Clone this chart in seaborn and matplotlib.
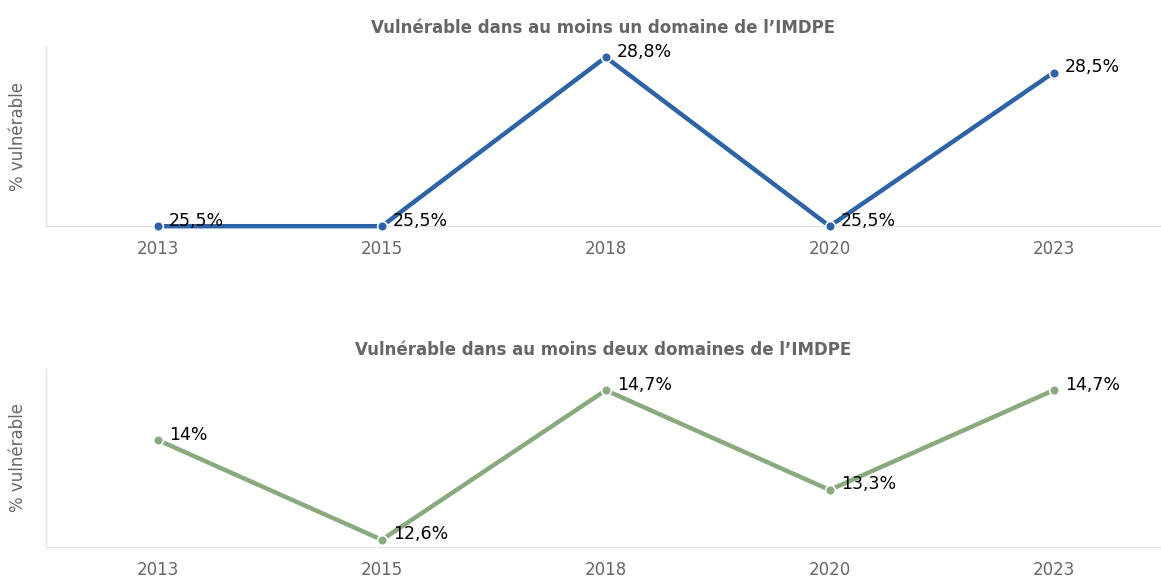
import os
import matplotlib
matplotlib.use("Agg")
import matplotlib.pyplot as plt
from matplotlib.font_manager import FontProperties
import seaborn as sns
import pandas as pd

years = ["2013", "2015", "2018", "2020", "2023"]
un_domaine = [25.5, 25.5, 28.8, 25.5, 28.5]
deux_domaines = [14.0, 12.6, 14.7, 13.3, 14.7]
labels_un = ["25,5%", "25,5%", "28,8%", "25,5%", "28,5%"]
labels_deux = ["14%", "12,6%", "14,7%", "13,3%", "14,7%"]
titles = ["Vulnérable dans au moins un domaine de l’IMDPE",
          "Vulnérable dans au moins deux domaines de l’IMDPE"]

ttf_dir = os.path.join(matplotlib.get_data_path(), "fonts", "ttf")
REG = os.path.join(ttf_dir, "DejaVuSans.ttf")
BOLD = os.path.join(ttf_dir, "DejaVuSans-Bold.ttf")

def fp(size, bold=False):
    return FontProperties(fname=BOLD if bold else REG, size=size)

fig = plt.figure(figsize=(11.61, 5.80), dpi=100)
ax1 = fig.add_axes([0.0396, 0.610, 0.9604, 0.309])
ax2 = fig.add_axes([0.0396, 0.057, 0.9604, 0.307])

specs = [
    (ax1, un_domaine, labels_un, "#2e63a6", (25.5, 29.0), titles[0]),
    (ax2, deux_domaines, labels_deux, "#88aa7e", (12.5, 15.0), titles[1]),
]
for ax, vals, labs, color, ylim, title in specs:
    df = pd.DataFrame({"year": years, "value": vals})
    sns.lineplot(data=df, x="year", y="value", ax=ax, color=color, linewidth=3.2,
                 marker="o", markersize=7, markeredgecolor="white", markeredgewidth=1.2,
                 sort=False, clip_on=False, zorder=3)
    for i, (v, l) in enumerate(zip(vals, labs)):
        ax.annotate(l, (i, v), xytext=(8, 4), textcoords="offset points",
                    ha="left", va="center", color="black",
                    fontproperties=fp(12.5), zorder=4)
    ax.set_ylim(*ylim)
    ax.set_xlim(-0.5, 4.48)
    ax.set_yticks([])
    ax.set_xlabel("")
    ax.set_ylabel("% vulnérable", color="#666666", labelpad=14, fontproperties=fp(12))
    ax.set_title(title, color="#666666", pad=10, fontproperties=fp(12, bold=True))
    ax.tick_params(axis="x", labelcolor="#666666", length=0, pad=10)
    ax.set_xticks(range(len(years)))
    ax.set_xticklabels(years, fontproperties=fp(12))
    ax.grid(False)
    for s in ["top", "right"]:
        ax.spines[s].set_visible(False)
    for s in ["left", "bottom"]:
        ax.spines[s].set_color("#e3e3e3")
        ax.spines[s].set_linewidth(1.0)
    ax.set_facecolor("white")

fig.savefig("out.png", dpi=100, facecolor="white")
